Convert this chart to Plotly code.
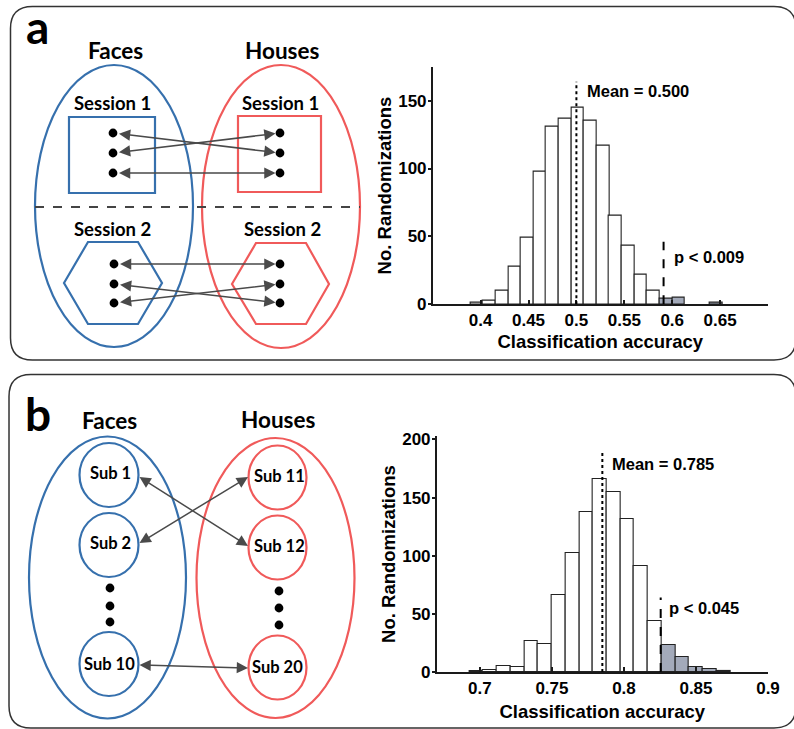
import plotly.graph_objects as go

# ---------------- data ----------------
a_bin_centers = [0.3961, 0.4092, 0.4224, 0.4356, 0.4487, 0.4619, 0.4750, 0.4882,
                 0.5014, 0.5145, 0.5277, 0.5408, 0.5540, 0.5672, 0.5803, 0.5935,
                 0.6066, 0.6461]
a_counts = [1, 3, 10, 28, 49, 98, 131, 137, 145, 135, 117, 65, 43, 22, 10, 4, 5, 1]
a_mean = 0.500
a_threshold = 0.591
a_xticks = [0.4, 0.45, 0.5, 0.55, 0.6, 0.65]
a_yticks = [0, 50, 100, 150]

b_bin_centers = [0.6975, 0.7070, 0.7165, 0.7261, 0.7356, 0.7451, 0.7546, 0.7642,
                 0.7737, 0.7832, 0.7928, 0.8023, 0.8118, 0.8213, 0.8309, 0.8404,
                 0.8499, 0.8595, 0.8690]
b_counts = [1, 2, 5, 4, 27, 24, 66, 102, 138, 166, 155, 132, 91, 44, 23, 13, 4, 3, 1]
b_mean = 0.785
b_threshold = 0.8255
b_xticks = [0.7, 0.75, 0.8, 0.85, 0.9]
b_yticks = [0, 50, 100, 150, 200]

a_mean_label = "Mean = 0.500"
a_p_label = "p < 0.009"
b_mean_label = "Mean = 0.785"
b_p_label = "p < 0.045"

W, H = 794, 729
BLUE = "#3670ad"
RED = "#f05a5a"
ARROW = "#4a4a4a"
GRAYBAR = "#a3aaba"
AX = "#1a1a1a"
HFONT = "Liberation Sans, Arial, sans-serif"
DFONT = "Lato, Open Sans, sans-serif"


def px(x):
    return x / W


def py(y):
    return 1 - y / H


shapes = []
annotations = []


def rrect(x0, y0, x1, y1, r):
    pts = [("M", [(x0 + r, y0)]), ("L", [(x1 - r, y0)]), ("Q", [(x1, y0), (x1, y0 + r)]),
           ("L", [(x1, y1 - r)]), ("Q", [(x1, y1), (x1 - r, y1)]), ("L", [(x0 + r, y1)]),
           ("Q", [(x0, y1), (x0, y1 - r)]), ("L", [(x0, y0 + r)]), ("Q", [(x0, y0), (x0 + r, y0)])]
    d = ""
    for cmd, ps in pts:
        d += cmd + " " + " ".join(f"{px(a):.5f},{py(b):.5f}" for a, b in ps) + " "
    d += "Z"
    shapes.append(dict(type="path", xref="paper", yref="paper", path=d,
                       line=dict(color="#333333", width=1.5), layer="below"))


def ellipse(cx, cy, rx, ry, color, width=2.2):
    shapes.append(dict(type="circle", xref="paper", yref="paper",
                       x0=px(cx - rx), x1=px(cx + rx), y0=py(cy + ry), y1=py(cy - ry),
                       line=dict(color=color, width=width)))


def dot(cx, cy, r=4.4):
    shapes.append(dict(type="circle", xref="paper", yref="paper",
                       x0=px(cx - r), x1=px(cx + r), y0=py(cy + r), y1=py(cy - r),
                       fillcolor="black", line=dict(color="black", width=0)))


def poly(points, color, width=2.2):
    d = "M " + " L ".join(f"{px(a):.5f},{py(b):.5f}" for a, b in points) + " Z"
    shapes.append(dict(type="path", xref="paper", yref="paper", path=d,
                       line=dict(color=color, width=width)))


def rect(x0, y0, x1, y1, color, width=2.2):
    shapes.append(dict(type="rect", xref="paper", yref="paper",
                       x0=px(x0), x1=px(x1), y0=py(y1), y1=py(y0),
                       line=dict(color=color, width=width)))


def text(x, y, s, size, family=DFONT):
    annotations.append(dict(x=px(x), y=py(y), xref="paper", yref="paper", text=f"<b>{s}</b>",
                            showarrow=False, xanchor="center", yanchor="middle",
                            font=dict(size=size, family=family, color="black")))


def darrow(x0, y0, x1, y1, so=4.5):
    annotations.append(dict(x=px(x1), y=py(y1), xref="paper", yref="paper",
                            ax=x0 - x1, ay=y0 - y1, axref="pixel", ayref="pixel",
                            text="", showarrow=True, arrowside="end+start",
                            arrowhead=2, startarrowhead=2, arrowsize=1.5, startarrowsize=1.5,
                            arrowwidth=1.5, arrowcolor=ARROW, standoff=so, startstandoff=so))


# ---------------- panel frames ----------------
rrect(10.5, 6.5, 796, 360, 22)
rrect(9, 374.5, 796, 728, 22)

# ---------------- panel a diagram ----------------
text(37, 27, "a", 46)
text(115, 50, "Faces", 22.5)
text(282, 50, "Houses", 22.5)
ellipse(114, 206, 79, 141, BLUE)
ellipse(281, 206.5, 79, 141.5, RED)
text(113, 103, "Session 1", 18.5)
text(280, 103, "Session 1", 18.5)
rect(69, 117, 155, 193, BLUE)
rect(238, 116, 321, 192, RED)
shapes.append(dict(type="line", xref="paper", yref="paper", x0=px(35), x1=px(360),
                   y0=py(207), y1=py(207), line=dict(color="#444444", width=2, dash="dash")))
text(113, 229, "Session 2", 18.5)
text(282, 229, "Session 2", 18.5)
poly([(64, 283), (88, 242), (138, 242), (162, 283), (138, 324), (88, 324)], BLUE)
poly([(232, 284), (256, 243), (306, 243), (329, 284), (306, 324), (256, 324)], RED)
for yy in (133, 153, 173):
    dot(113, yy)
    dot(280, yy)
for yy in (264, 284, 303):
    dot(114, yy)
    dot(280, yy)
darrow(113, 133, 280, 153)
darrow(113, 153, 280, 133)
darrow(113, 173, 280, 173)
darrow(114, 264, 280, 264)
darrow(114, 284, 280, 303)
darrow(114, 303, 280, 284)

# ---------------- panel b diagram ----------------
text(38, 413, "b", 46)
text(109, 420, "Faces", 22.5)
text(278, 419, "Houses", 22.5)
ellipse(107.5, 577.5, 78.5, 141, BLUE)
ellipse(275.5, 578, 79, 140, RED)
for cy in (475, 545, 664):
    ellipse(109, cy, 29.5, 32, BLUE)
for cy in (477.5, 547.5, 667.5):
    ellipse(277.5, cy, 29, 32, RED)
text(110, 473, "Sub 1", 16.5)
text(110, 543, "Sub 2", 16.5)
text(109, 664, "Sub 10", 16.5)
text(279, 476, "Sub 11", 16.5)
text(279, 546, "Sub 12", 16.5)
text(277, 667, "Sub 20", 16.5)
for yy in (588, 606, 622):
    dot(110, yy)
for yy in (591, 608, 625):
    dot(279, yy)
darrow(138, 476, 248, 546, 0)
darrow(138, 544, 248, 477, 0)
darrow(138, 665, 248, 668, 0)

# ---------------- histograms ----------------
fig = go.Figure()
a_colors = ["white" if c < a_threshold else GRAYBAR for c in a_bin_centers]
b_colors = ["white" if c < b_threshold else GRAYBAR for c in b_bin_centers]
fig.add_trace(go.Bar(x=a_bin_centers, y=a_counts, width=0.01316, marker=dict(color=a_colors,
              line=dict(color="#222222", width=1.1)), xaxis="x", yaxis="y", showlegend=False))
fig.add_trace(go.Bar(x=b_bin_centers, y=b_counts, width=0.00953, marker=dict(color=b_colors,
              line=dict(color="#222222", width=1.1)), xaxis="x2", yaxis="y2", showlegend=False))

shapes.append(dict(type="line", xref="x", yref="y", x0=a_mean, x1=a_mean, y0=0, y1=164,
                   line=dict(color="black", width=2, dash="dot")))
shapes.append(dict(type="line", xref="x", yref="y", x0=a_threshold, x1=a_threshold, y0=0, y1=46,
                   line=dict(color="black", width=2, dash="dash")))
shapes.append(dict(type="line", xref="x2", yref="y2", x0=b_mean, x1=b_mean, y0=0, y1=189,
                   line=dict(color="black", width=2, dash="dot")))
shapes.append(dict(type="line", xref="x2", yref="y2", x0=b_threshold, x1=b_threshold, y0=0, y1=64,
                   line=dict(color="black", width=2, dash="dash")))

for xr, yr, x, y, s in [("x", "y", 0.5088, 157, a_mean_label), ("x", "y", 0.5998, 35, a_p_label),
                        ("x2", "y2", 0.7902, 179, b_mean_label), ("x2", "y2", 0.830, 55, b_p_label)]:
    annotations.append(dict(x=x, y=y, xref=xr, yref=yr, text=f"<b>{s}</b>", showarrow=False,
                            xanchor="left", yanchor="middle",
                            font=dict(size=16.5, family=HFONT, color="black")))

tickfont = dict(size=17, family=HFONT, color="black")
titlefont = dict(size=18.5, family=HFONT, color="black")
xcommon = dict(showline=True, linecolor=AX, linewidth=1.5, ticks="inside", ticklen=5,
               tickcolor=AX, tickwidth=1.5, showgrid=False, zeroline=False, tickfont=tickfont,
               automargin=False)
ycommon = dict(showline=True, linecolor=AX, linewidth=1.5, ticks="outside", ticklen=3,
               tickcolor=AX, tickwidth=1.5, showgrid=False, zeroline=False, tickfont=tickfont,
               automargin=False, ticklabelstandoff=-2)

fig.update_layout(
    width=W, height=H, autosize=False,
    margin=dict(l=0, r=0, t=0, b=0, autoexpand=False),
    paper_bgcolor="white", plot_bgcolor="rgba(0,0,0,0)",
    bargap=0,
    xaxis=dict(domain=[432.7 / W, 768 / W], range=[0.35, 0.70], anchor="y",
               tickvals=a_xticks, ticktext=[f"<b>{v:g}</b>" for v in a_xticks],
               title=dict(text="<b>Classification accuracy</b>", font=titlefont, standoff=6), **xcommon),
    yaxis=dict(domain=[1 - 304.3 / H, 1 - 66.7 / H], range=[0, 175], anchor="x",
               tickvals=a_yticks, ticktext=[f"<b>{v}</b>" for v in a_yticks],
               title=dict(text="<b>No. Randomizations</b>", font=titlefont, standoff=2), **ycommon),
    xaxis2=dict(domain=[436.7 / W, 768 / W], range=[0.67, 0.90], anchor="y2",
                tickvals=b_xticks, ticktext=[f"<b>{v:g}</b>" for v in b_xticks],
                title=dict(text="<b>Classification accuracy</b>", font=titlefont, standoff=8), **xcommon),
    yaxis2=dict(domain=[1 - 672 / H, 1 - 436 / H], range=[0, 203], anchor="x2",
                tickvals=b_yticks, ticktext=[f"<b>{v}</b>" for v in b_yticks],
                title=dict(text="<b>No. Randomizations</b>", font=titlefont, standoff=2), **ycommon),
    shapes=shapes,
    annotations=annotations,
)

fig.write_html("out.html")
